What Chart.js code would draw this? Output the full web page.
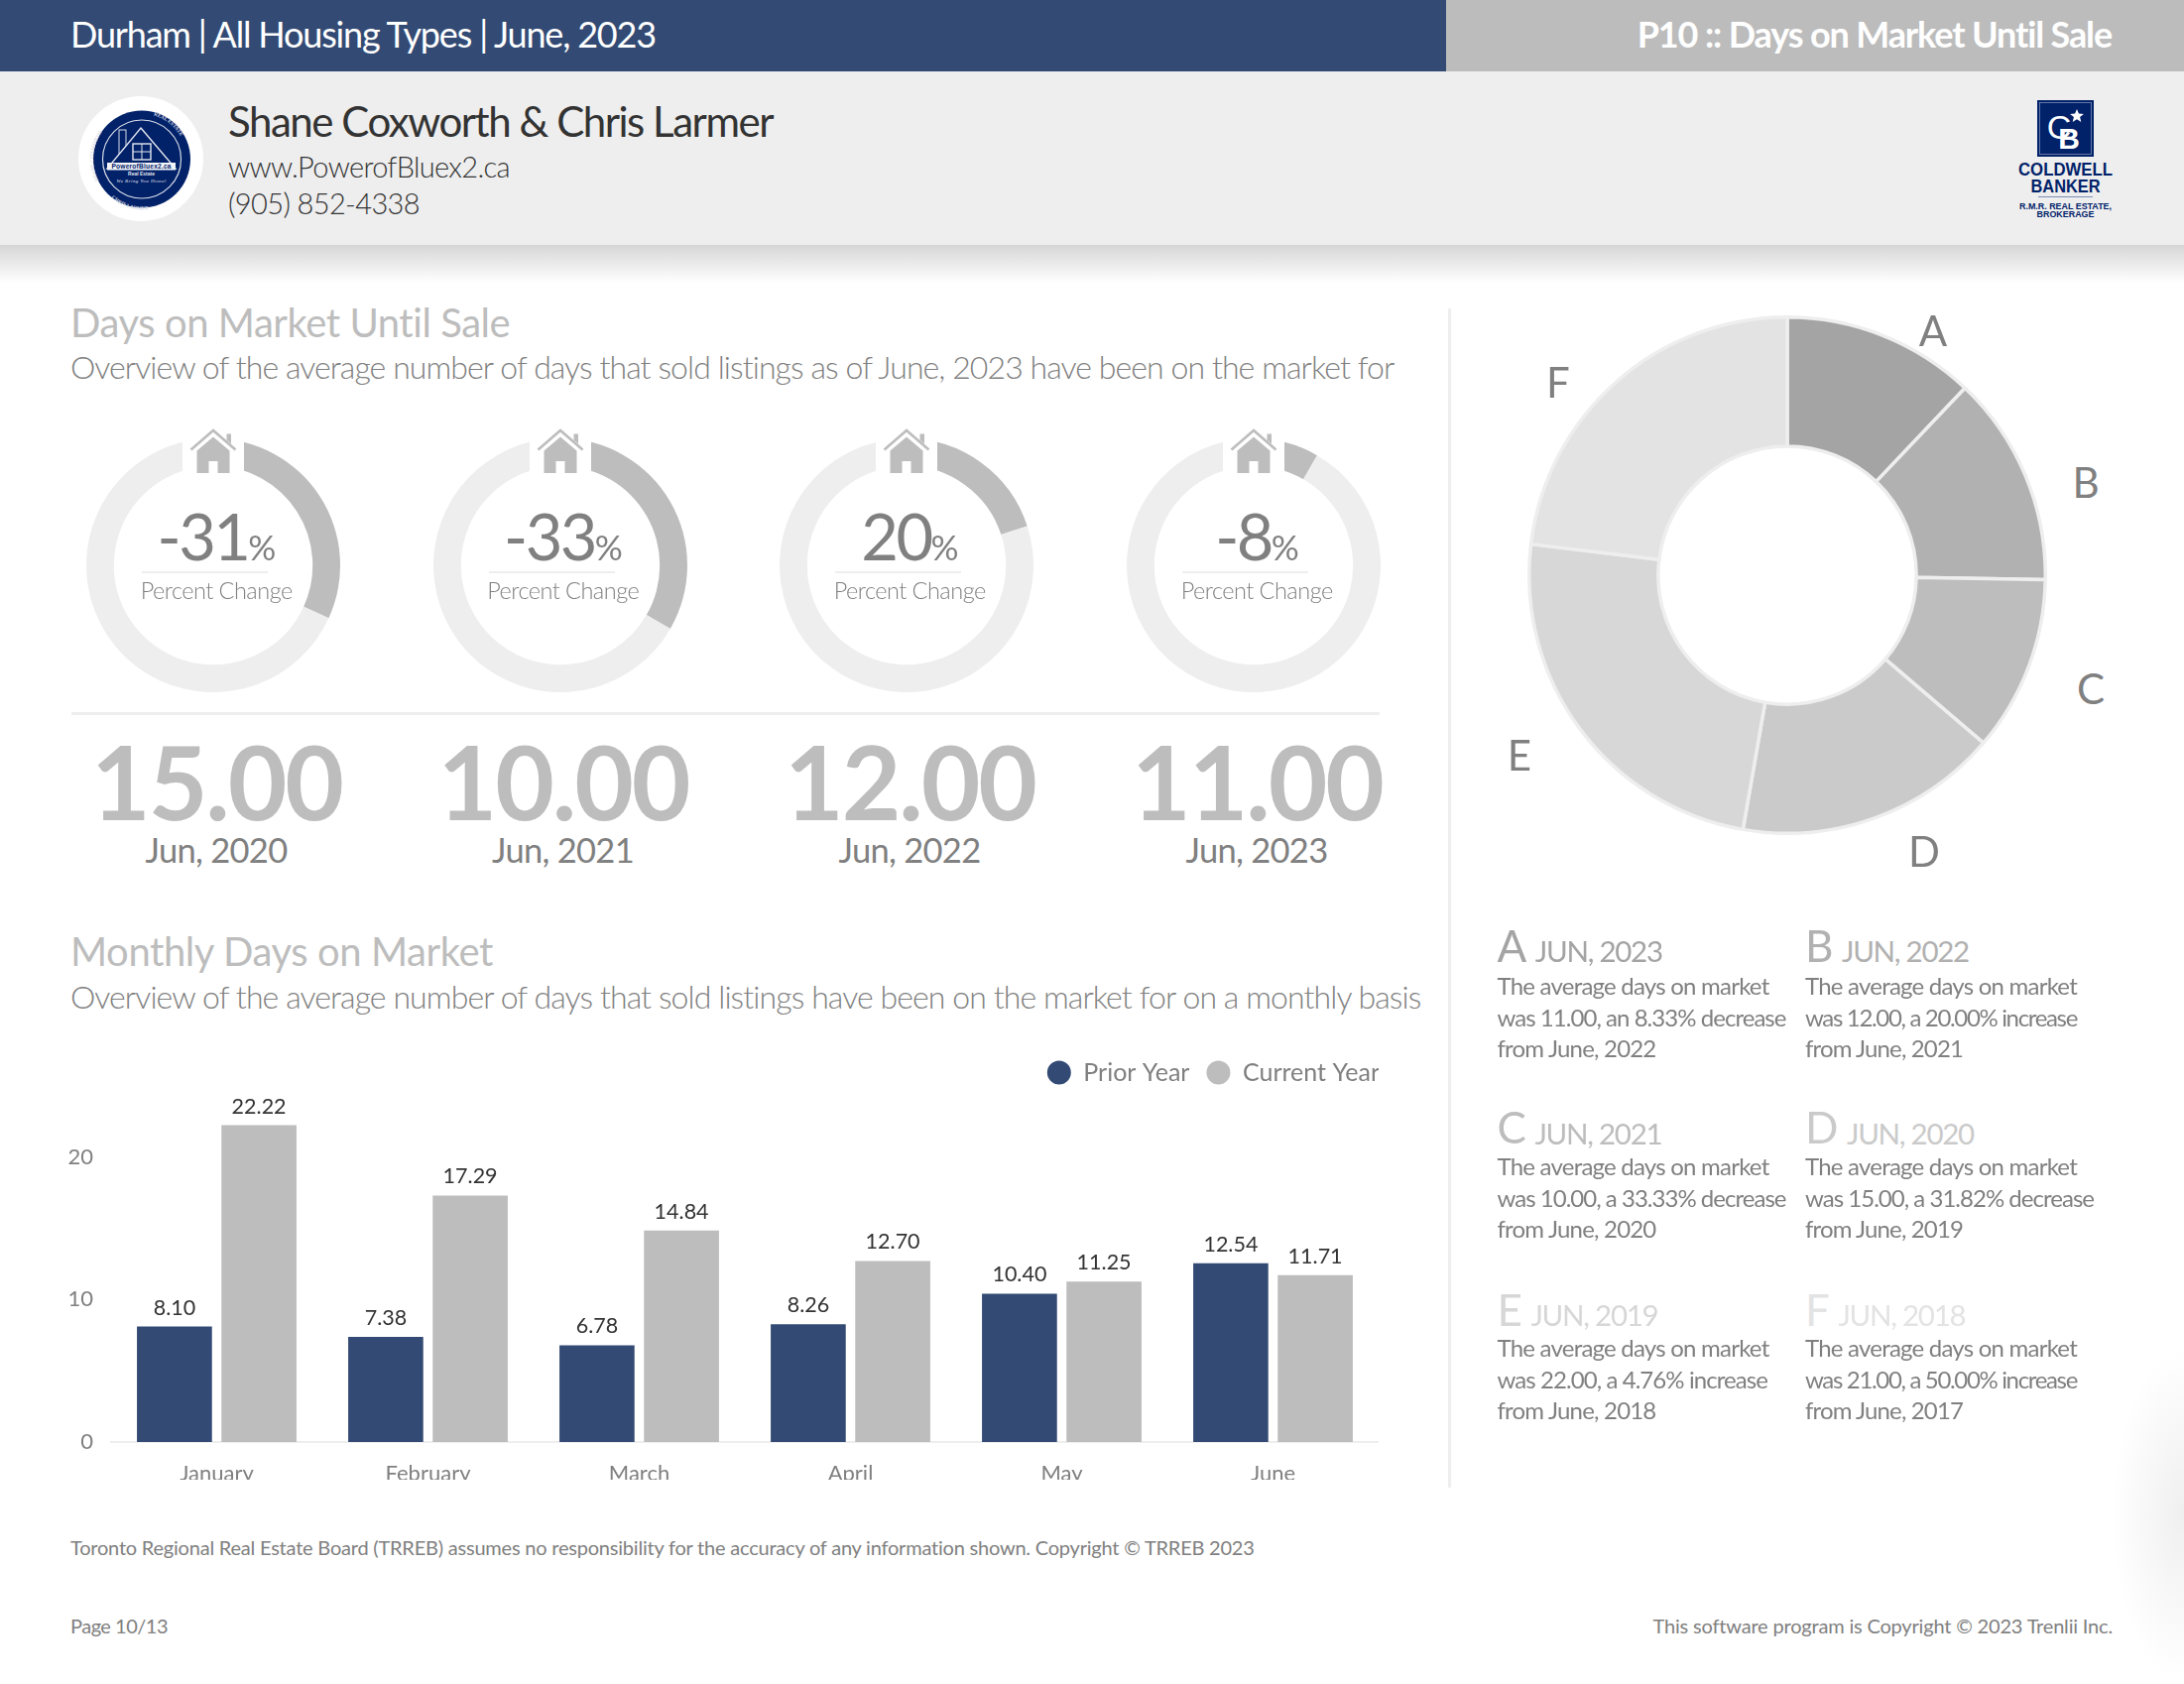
<!DOCTYPE html>
<html><head><meta charset="utf-8">
<script src="https://cdn.jsdelivr.net/npm/chart.js@4"></script>
<style>
html,body{margin:0;padding:0;background:#fff;}
#page{position:relative;width:2202px;height:1698px;overflow:hidden;background:#fff;font-family:Lato,sans-serif;}
.box{position:absolute;}
.t{position:absolute;white-space:pre;line-height:1;}
canvas{position:absolute;display:block;}
</style></head><body>
<div id="page">
 <div class="box" style="left:0;top:0;width:1458px;height:72px;background:#334b74"></div>
 <div class="box" style="left:1458px;top:0;width:744px;height:72px;background:#bcbcbc"></div>
 <div class="box" style="left:0;top:72px;width:2202px;height:175px;background:#eeeeee"></div>
 <div class="box" style="left:0;top:247px;width:2202px;height:38px;background:linear-gradient(#d6d6d6,#ffffff)"></div>
 <div class="box" style="left:1460px;top:311px;width:2.5px;height:1189px;background:#eeeeee"></div>
 <div class="box" style="left:72px;top:718px;width:1319px;height:3px;background:#eeeeee"></div>
 <div class="box" style="left:2130px;top:1360px;width:72px;height:335px;background:radial-gradient(ellipse 72px 167px at 100% 50%,#efefef,#ffffff)"></div>

 <svg class="box" style="left:70px;top:90px" width="150" height="140" viewBox="70 90 150 140">
  <defs>
   <path id="arcL" d="M 99.5 182 A 46 46 0 0 1 143 114.5"/>
   <path id="arcR" d="M 143 114.5 A 46 46 0 0 1 187 150"/>
   <path id="arcB" d="M 104 188 A 44 44 0 0 0 182 188"/>
  </defs>
  <circle cx="142" cy="160" r="63" fill="#ffffff"/>
  <circle cx="143" cy="160.5" r="49" fill="#012169"/>
  <circle cx="143" cy="160.5" r="39.5" fill="none" stroke="#d8dde8" stroke-width="1.2"/>
  <rect x="120" y="131" width="7" height="24" fill="none" stroke="#d8dde8" stroke-width="1"/>
  <path d="M142 129 L177 170 L108 170 Z" fill="#012169" stroke="#e4e8f0" stroke-width="1.4"/>
  <rect x="134" y="145" width="18" height="16" fill="none" stroke="#e4e8f0" stroke-width="1.4"/>
  <path d="M143 145V161M134 153H152" stroke="#e4e8f0" stroke-width="1"/>
  <rect x="108" y="164" width="69" height="7.5" fill="#f2f4f8"/>
  <text x="142.5" y="170" text-anchor="middle" font-family="Liberation Sans" font-size="6.6" font-weight="700" fill="#012169" textLength="60">PowerofBluex2.ca</text>
  <text x="142.5" y="177" text-anchor="middle" font-family="Liberation Sans" font-size="5" font-weight="700" fill="#e4e8f0">Real Estate</text>
  <text x="142.5" y="183.5" text-anchor="middle" font-family="Liberation Serif" font-style="italic" font-size="5" fill="#e4e8f0" textLength="50">We Bring You Home!</text>
  <text font-family="Liberation Serif" font-size="5.2" font-weight="700" fill="#d8dde8"><textPath href="#arcL">SHANE COXWORTH</textPath></text>
  <text font-family="Liberation Serif" font-size="5.2" font-weight="700" fill="#d8dde8"><textPath href="#arcR" startOffset="12">REAL ESTATE</textPath></text>
  <text font-family="Liberation Serif" font-size="5.2" font-weight="700" fill="#d8dde8"><textPath href="#arcB" startOffset="14">CHRIS LARMER</textPath></text>
 </svg>

 <svg class="box" style="left:2020px;top:90px" width="150" height="140" viewBox="2020 90 150 140">
  <rect x="2054" y="101" width="57" height="57" fill="#012169"/>
  <rect x="2056.5" y="103.5" width="52" height="52" fill="none" stroke="#7d8db5" stroke-width=".8"/>
  <text x="2076" y="140" text-anchor="middle" font-family="Liberation Sans" font-size="34" fill="#ffffff">C</text>
  <text x="2086" y="150" text-anchor="middle" font-family="Liberation Sans" font-size="30" font-weight="700" fill="#ffffff">B</text>
  <path d="M2094 110l1.9 4.6 5 .3-3.8 3.2 1.2 4.8-4.3-2.6-4.3 2.6 1.2-4.8-3.8-3.2 5-.3z" fill="#ffffff"/>
  <text x="2082.5" y="177" text-anchor="middle" font-family="Liberation Sans" font-size="18" font-weight="700" fill="#012169" textLength="95" lengthAdjust="spacingAndGlyphs">COLDWELL</text>
  <text x="2082.5" y="193.5" text-anchor="middle" font-family="Liberation Sans" font-size="18" font-weight="700" fill="#012169" textLength="70" lengthAdjust="spacingAndGlyphs">BANKER</text>
  <rect x="2055" y="198" width="55" height="1" fill="#7d8db5"/>
  <text x="2082.5" y="210.5" text-anchor="middle" font-family="Liberation Sans" font-size="9" font-weight="700" fill="#012169" textLength="93" lengthAdjust="spacingAndGlyphs">R.M.R. REAL ESTATE,</text>
  <text x="2082.5" y="219" text-anchor="middle" font-family="Liberation Sans" font-size="9" font-weight="700" fill="#012169" textLength="58" lengthAdjust="spacingAndGlyphs">BROKERAGE</text>
 </svg>

 <div id="barWrap" class="box" style="left:58px;top:1052px;width:1332px;height:439.5px;overflow:hidden">
  <canvas id="bars" width="1332" height="470" style="left:0;top:0"></canvas>
 </div>
</div>
<script>
// ---------- chart data ----------
const months = ['January','February','March','April','May','June'];
const priorYear = [8.10,7.38,6.78,8.26,10.40,12.54];
const currentYear = [22.22,17.29,14.84,12.70,11.25,11.71];
const seriesNames = ['Prior Year','Current Year'];
const yTicks = [0,10,20];
const gaugeChange = [31.82,33.33,20.00,8.33];
const gaugeText = ['-31','-33','20','-8'];
const gaugeValues = ['15.00','10.00','12.00','11.00'];
const gaugeDates = ['Jun, 2020','Jun, 2021','Jun, 2022','Jun, 2023'];
const pieLetters = ['A','B','C','D','E','F'];
const pieValues = [11,12,10,15,22,21];
const pieColors = ['#a4a4a4','#b1b1b1','#bdbdbd','#cacaca','#d7d7d7','#e3e3e3'];
const noteDates = ['JUN, 2023','JUN, 2022','JUN, 2021','JUN, 2020','JUN, 2019','JUN, 2018'];
const noteLines = [
 ['The average days on market','was 11.00, an 8.33% decrease','from June, 2022'],
 ['The average days on market','was 12.00, a 20.00% increase','from June, 2021'],
 ['The average days on market','was 10.00, a 33.33% decrease','from June, 2020'],
 ['The average days on market','was 15.00, a 31.82% decrease','from June, 2019'],
 ['The average days on market','was 22.00, a 4.76% increase','from June, 2018'],
 ['The average days on market','was 21.00, a 50.00% increase','from June, 2017']
];
// ---------- layout constants ----------
const NAVY='#334b74', SILVER='#bdbdbd', GREY='#808080';
const page=document.getElementById('page');
function T(s,x,cy,size,weight,color,o={}){
  const e=document.createElement('div');e.className='t';e.textContent=s;
  e.style.fontSize=size+'px';e.style.fontWeight=weight;e.style.color=color;
  e.style.top=(cy-size/2)+'px';
  page.appendChild(e);
  if(o.w){const r=e.getBoundingClientRect().width;e.style.letterSpacing=((o.w-r)/s.length)+'px';}
  if(o.ls!==undefined)e.style.letterSpacing=o.ls+'px';
  const w=e.getBoundingClientRect().width;
  const a=o.align||'left';
  e.style.left=(a==='left'?x:a==='right'?x-w:x-w/2)+'px';
  return e;
}
T('Durham | All Housing Types | June, 2023',71,33.5,36,400,'#fff',{w:590});
T('P10 :: Days on Market Until Sale',2129,33.5,36,700,'#fff',{w:479,align:'right'});
T('Shane Coxworth & Chris Larmer',230,121.5,42,400,'#333',{w:549});
T('www.PowerofBluex2.ca',230,167,29,300,'#333',{w:284});
T('(905) 852-4338',230,204,29,300,'#333',{w:193});
T('Days on Market Until Sale',71,324.5,40,400,SILVER,{w:444});
T('Overview of the average number of days that sold listings as of June, 2023 have been on the market for',71,369.5,32,300,GREY,{w:1335});
T('Monthly Days on Market',71,958.5,40,400,SILVER,{w:426});
T('Overview of the average number of days that sold listings have been on the market for on a monthly basis',71,1004.5,32,300,GREY,{w:1362});
T('Toronto Regional Real Estate Board (TRREB) assumes no responsibility for the accuracy of any information shown. Copyright \u00a9 TRREB 2023',71,1560.3,20,400,GREY,{w:1194});
T('Page 10/13',71,1639.3,20,400,GREY,{w:98});
T('This software program is Copyright \u00a9 2023 Trenlii Inc.',2130,1639.3,20,400,GREY,{w:463,align:'right'});

// ---------- gauges ----------
const gaugeCx=[215,564.5,914,1264];
gaugeChange.forEach((v,i)=>{
  const cx=gaugeCx[i];
  const c=document.createElement('canvas');c.width=256;c.height=256;
  c.style.left=Math.round(cx-128)+'px';c.style.top='442px';page.appendChild(c);
  new Chart(c,{type:'doughnut',data:{datasets:[{data:[v,100-v],backgroundColor:[SILVER,'#eeeeee'],borderWidth:0}]},
    options:{responsive:false,animation:false,cutout:'78.3%',plugins:{legend:{display:false},tooltip:{enabled:false}}}});
  const m=document.createElement('div');
  m.className='box';m.style.cssText=`left:${cx-31}px;top:425px;width:62px;height:60px;background:#fff`;page.appendChild(m);
  const h=document.createElementNS('http://www.w3.org/2000/svg','svg');
  h.setAttribute('width','54');h.setAttribute('height','48');h.setAttribute('viewBox','-27 -2 54 48');
  h.style.cssText=`position:absolute;left:${cx-27}px;top:430px`;
  h.innerHTML=`<path d="M-22.5 21.5L0 2l22.5 19.5" fill="none" stroke="${SILVER}" stroke-width="2.6"/><path d="M13.5 5.5h4.5v10l-4.5-3.8z" fill="${SILVER}"/><path d="M0 8.5L16.5 22.5V45H4.5V33h-9V45H-16.5V22.5z" fill="${SILVER}"/>`;
  page.appendChild(h);
  const big=document.createElement('div');big.className='t';
  big.style.cssText=`color:${GREY};font-weight:400;font-size:65px;letter-spacing:-2.6px;top:${540-32.5}px`;
  big.innerHTML=gaugeText[i]+'<span style="font-size:35px;font-weight:400;letter-spacing:-1px">%</span>';
  page.appendChild(big);big.style.left=(cx+3-big.getBoundingClientRect().width/2)+'px';
  const r=document.createElement('div');r.className='box';
  r.style.cssText=`left:${cx-72}px;top:575.5px;width:127px;height:2.5px;background:#eeeeee`;page.appendChild(r);
  T('Percent Change',cx+3.2,596,23.5,300,GREY,{w:153,align:'center'});
  T(gaugeValues[i],cx+3.5,787,103,700,SILVER,{w:253,align:'center'});
  T(gaugeDates[i],cx+3,857,34.5,400,GREY,{w:143,align:'center'});
});

// ---------- pie ----------
const pc=document.createElement('canvas');pc.width=524;pc.height=524;pc.style.left='1540px';pc.style.top='318px';page.appendChild(pc);
new Chart(pc,{type:'doughnut',data:{labels:pieLetters,datasets:[{data:pieValues,backgroundColor:pieColors,borderColor:'#eeeeee',borderWidth:3.5,borderAlign:'center'}]},
  options:{responsive:false,animation:false,cutout:'50%',plugins:{legend:{display:false},tooltip:{enabled:false}}}});
const pieLabelPos=[[1949,333],[2103,486],[2108,694],[1940,858],[1532,761],[1571,385]];
pieLetters.forEach((l,i)=>T(l,pieLabelPos[i][0],pieLabelPos[i][1],42,400,GREY,{align:'center'}));

// ---------- notes ----------
const noteX=[1509.5,1820], noteBase=[970,1153.5,1337], noteLine0=[994,1175.8,1358.8];
const headColors=['#a4a4a4','#b1b1b1','#bdbdbd','#cacaca','#d7d7d7','#e3e3e3'];
const lineWidths=[[274,291,160],[274,274,159],[274,291,160],[274,291,159],[274,272.5,160],[274,274,159]];
noteDates.forEach((d,i)=>{
  const col=i%2,row=(i-col)/2,x=noteX[col];
  const lc=headColors[i];
  const a=T(pieLetters[i],x,noteBase[row]-44*0.387,44,400,lc);
  const w=a.getBoundingClientRect().width;
  T(d,x+w+8.5,noteBase[row]-29*0.387,29.5,400,lc,{w:128});
  noteLines[i].forEach((s,j)=>T(s,x,noteLine0[row]+j*31.7,24,400,GREY,{w:lineWidths[i][j]}));
});

// ---------- bars ----------
const valueLabels={id:'valueLabels',afterLayout(ch){ch.legend.right+=18;},afterDatasetsDraw(ch){
  const c=ch.ctx;c.save();c.font='400 21.5px Lato';c.fillStyle='#333';c.textAlign='center';c.textBaseline='middle';
  ch.data.datasets.forEach((ds,d)=>ch.getDatasetMeta(d).data.forEach((b,i)=>c.fillText(ds.data[i].toFixed(2),b.x,b.y-19)));
  c.restore();
}};
new Chart(document.getElementById('bars'),{type:'bar',plugins:[valueLabels],
 data:{labels:months,datasets:[
  {label:seriesNames[0],data:priorYear,backgroundColor:NAVY,barPercentage:.888,categoryPercentage:.8},
  {label:seriesNames[1],data:currentYear,backgroundColor:SILVER,barPercentage:.888,categoryPercentage:.8}]},
 options:{responsive:false,animation:false,
  plugins:{tooltip:{enabled:false},legend:{position:'top',align:'end',
    labels:{usePointStyle:true,pointStyle:'circle',boxHeight:17,pointStyleWidth:24,padding:17,color:GREY,font:{family:'Lato',size:25}}}},
  scales:{
   x:{grid:{display:false},border:{color:'#eeeeee',width:2},
      ticks:{color:GREY,font:{family:'Lato',size:22},padding:11,maxRotation:0},
      afterFit:s=>{s.height=68;}},
   y:{min:0,max:24.35,grid:{display:false},border:{display:false},
      ticks:{color:GREY,font:{family:'Lato',size:22},padding:10},
      afterBuildTicks:s=>{s.ticks=yTicks.map(v=>({value:v}));},
      afterFit:s=>{s.width=54;}}
  }}});
</script>
</body></html>
